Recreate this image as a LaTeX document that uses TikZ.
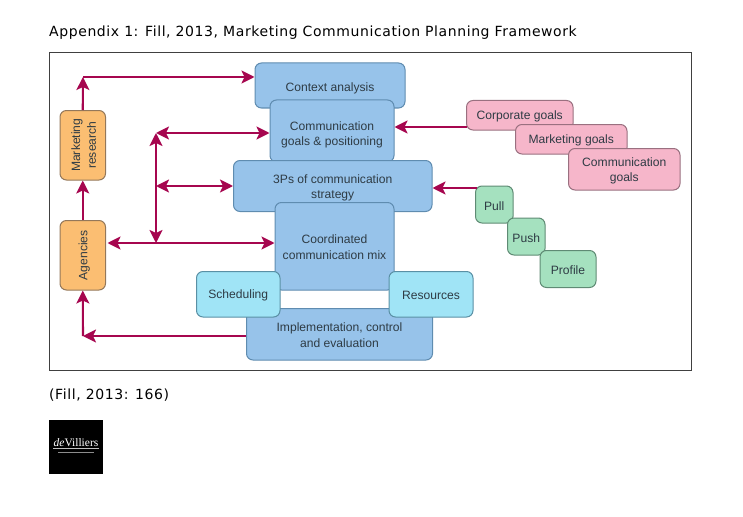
\documentclass[tikz,border=0pt]{standalone}
\usepackage{fontspec}
\setmainfont{Liberation Sans}
\newfontfamily\titlefont[LetterSpace=4.2]{DejaVu Sans}
\newfontfamily\logofont{Liberation Serif}
\usetikzlibrary{arrows.meta,calc}
\definecolor{inkc}{HTML}{2E3B44}
\definecolor{arrowc}{HTML}{A6064F}
\tikzset{
  box/.style={draw,line width=1pt,rounded corners=6.5pt,inner sep=0pt},
  bluebox/.style={box,fill=bluef,draw=blued},
  orangebox/.style={box,fill=orangef,draw=oranged},
  pinkbox/.style={box,fill=pinkf,draw=pinkd},
  greenbox/.style={box,fill=greenf,draw=greend},
  cyanbox/.style={box,fill=cyanf,draw=cyand},
  lab/.style={align=center,text=inkc,font=\fontsize{12.1}{15.7}\selectfont,inner sep=0pt},
  conn/.style={draw=arrowc,line width=2.1pt},
  tip/.style={-{Stealth[length=13pt,width=13pt,inset=3pt]}},
  bitip/.style={{Stealth[length=13pt,width=13pt,inset=3pt]}-{Stealth[length=13pt,width=13pt,inset=3pt]}},
  pagetext/.style={anchor=base west,inner sep=0pt,text=black,font=\titlefont\fontsize{14}{16}\selectfont}
}
\definecolor{bluef}{HTML}{97C3EA}\definecolor{blued}{HTML}{5F8CB0}
\definecolor{orangef}{HTML}{FBBE72}\definecolor{oranged}{HTML}{94785A}
\definecolor{pinkf}{HTML}{F6B6CA}\definecolor{pinkd}{HTML}{9A7080}
\definecolor{greenf}{HTML}{A5E1BF}\definecolor{greend}{HTML}{5F8B74}
\definecolor{cyanf}{HTML}{A0E4F6}\definecolor{cyand}{HTML}{5A90A5}
% name, style, x1, y1, x2, y2, label shift keys, label rotation, text
\newcommand{\bx}[9]{%
  \node[#2,minimum width={(#5-#3)*1pt},minimum height={(#6-#4)*1pt},
        label={[lab,#7,rotate=#8]center:#9}] (#1) at ({(#3+#5)/2},{(#4+#6)/2}) {};}
\begin{document}
\begin{tikzpicture}[x=1pt,y=-1pt]
\useasboundingbox (0,0) rectangle (743,516);
\node[pagetext] (title) at (49,36.5) {Appendix 1: Fill, 2013, Marketing Communication Planning Framework};
\node[draw=black!75,line width=1pt,minimum width=641.5pt,minimum height=317.5pt,inner sep=0pt] (frame) at (370.25,211.25) {};
\bx{ctx}{bluebox}{255}{63}{405}{108}{yshift=-2.5pt}{0}{Context analysis}
\bx{goals}{bluebox}{270}{100}{394}{162}{yshift=-4pt}{0}{Communication\\goals \& positioning}
\bx{threep}{bluebox}{233.5}{160.5}{432}{211.5}{yshift=-2pt}{0}{3Ps of communication\\strategy}
\bx{mix}{bluebox}{275}{202.5}{394}{290}{yshift=-1pt}{0}{Coordinated\\communication mix}
\bx{impl}{bluebox}{246.5}{308.5}{432.5}{360}{yshift=-1pt}{0}{Implementation, control\\and evaluation}
\bx{sched}{cyanbox}{196.5}{271.5}{280}{317}{yshift=-1.5pt}{0}{Scheduling}
\bx{res}{cyanbox}{389}{271.5}{473}{317}{yshift=-1.5pt}{0}{Resources}
\bx{mr}{orangebox}{60}{110.5}{105.5}{180}{xshift=1pt}{90}{Marketing\\research}
\bx{ag}{orangebox}{60}{220.5}{105.5}{290}{xshift=1.5pt}{90}{Agencies}
\bx{corp}{pinkbox}{466.5}{100.5}{573}{130}{yshift=-1.5pt}{0}{Corporate goals}
\bx{mkt}{pinkbox}{515.5}{124.5}{627}{154}{yshift=-1.5pt}{0}{Marketing goals}
\bx{com}{pinkbox}{568.5}{148.5}{680}{190}{yshift=-1.5pt}{0}{Communication\\goals}
\bx{pull}{greenbox}{475.5}{186}{513}{223}{yshift=-1.5pt}{0}{Pull}
\bx{push}{greenbox}{507.5}{218}{545}{255}{yshift=-1.5pt}{0}{Push}
\bx{prof}{greenbox}{540}{250.5}{596}{287.5}{yshift=-1.5pt}{0}{Profile}
% junctions
\coordinate (jtop) at (83,77);
\coordinate (jv1) at (156,133);
\coordinate (jv2) at (156,243);
\coordinate (jm) at (156,186);
\coordinate (jbot) at (83,336);
\coordinate (jcorp) at (466.5,127);
\coordinate (jpull) at (477,188);
% connectors
\draw[conn,tip] (mr.north) -- (jtop);
\draw[conn,tip] (jtop) -- (ctx.west |- jtop);
\draw[conn,tip] (ag.north) -- (mr.south);
\draw[conn,bitip] (jv1) -- (jv2);
\draw[conn,bitip] (jv1) -- (goals.west |- jv1);
\draw[conn,bitip] (jm) -- (threep.west |- jm);
\draw[conn,bitip] ([xshift=1.5pt]ag.east |- jv2) -- (mix.west |- jv2);
\draw[conn,tip] (impl.west |- jbot) -- (jbot);
\draw[conn,tip] (jbot) -- (ag.south);
\draw[conn,tip] (jcorp) -- (goals.east |- jcorp);
\draw[conn,tip] (jpull) -- (threep.east |- jpull);
\node[pagetext] (cite) at (49,399) {(Fill, 2013: 166)};
% logo
\node[fill=black,minimum width=54pt,minimum height=54.5pt,inner sep=0pt] (logo) at (76,447) {};
\node[inner sep=0pt,text=white,font=\logofont\fontsize{11.5}{12}\selectfont] (logotext) at (76,443) {\textit{de}Villiers};
\draw[white!75!black,line width=.5pt] (53,448.5) -- (99,448.5);
\draw[white!55!black,line width=1pt] (58,452) -- (94,452);
\end{tikzpicture}
\end{document}
